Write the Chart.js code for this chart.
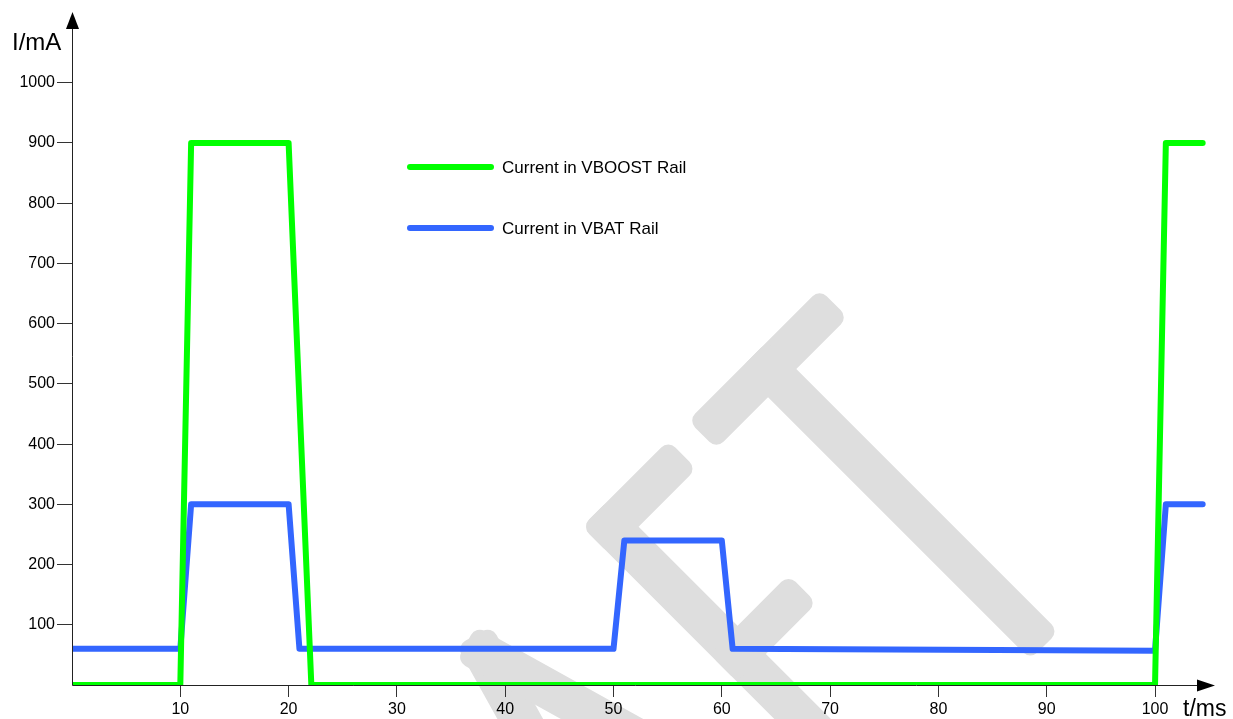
<!DOCTYPE html>
<html><head><meta charset="utf-8">
<script src="https://cdn.jsdelivr.net/npm/chart.js@4.4.1/dist/chart.umd.min.js"></script>
<style>html,body{margin:0;padding:0;background:#fff;overflow:hidden}</style>
</head><body>
<canvas id="c" width="1233" height="719"></canvas>
<script>
// ---- data ----
const seriesNames = ['Current in VBOOST Rail', 'Current in VBAT Rail'];
const vboostT = [0, 10, 11, 20, 22.1, 100, 101, 104.4];
const vboostI = [0, 0, 900, 900, 0, 0, 900, 900];
const vbatT = [0, 10, 11, 20, 21, 50, 51, 60, 61, 100, 101, 104.4];
const vbatI = [60, 60, 300, 300, 60, 60, 240, 240, 60, 57, 300, 300];
const xTicks = [10, 20, 30, 40, 50, 60, 70, 80, 90, 100];
const yTicks = [100, 200, 300, 400, 500, 600, 700, 800, 900, 1000];
const xTitle = 't/ms';
const yTitle = 'I/mA';
const watermarkText = 'DRAFT';

const FONT = "'Liberation Sans', Arial, sans-serif";
const colors = ['#00ff00', '#3366ff'];

// ---- watermark (decoration) ----
const W = 40;
function bar(ctx, x1, y1, x2, y2) {
  const ang = Math.atan2(y2 - y1, x2 - x1);
  const len = Math.hypot(x2 - x1, y2 - y1);
  ctx.save();
  ctx.translate(x1, y1);
  ctx.rotate(ang);
  ctx.beginPath();
  ctx.roundRect(-W / 2, -W / 2, len + W, W, 10);
  ctx.fill();
  ctx.restore();
}
const glyphs = {
  D: [[-860, 0, -860, 371], [-860, 0, -760, 0], [-860, 371, -760, 371], [-760, 0, -700, 120], [-700, 120, -700, 250], [-700, 250, -760, 371]],
  R: [[-660, 0, -660, 371], [-660, 0, -580, 0], [-580, 0, -550, 90], [-550, 90, -580, 180], [-580, 180, -660, 180], [-600, 180, -540, 371]],
  A: [[-402, 0, -508, 371], [-402, 0, -296, 371], [-465, 250, -340, 250]],
  F: [[-223, 0, -223, 371], [-223, 0, -141, 0], [-223, 180, -151, 180]],
  T: [[-73, 0, 73, 0], [0, 0, 0, 371]]
};
const watermarkPlugin = {
  id: 'watermark',
  beforeDraw(chart) {
    const ctx = chart.ctx;
    ctx.save();
    ctx.translate(768, 369);
    ctx.rotate(-Math.PI / 4);
    ctx.fillStyle = '#dedede';
    for (const ch of watermarkText) {
      (glyphs[ch] || []).forEach(s => bar(ctx, s[0], s[1], s[2], s[3]));
    }
    ctx.restore();
  }
};

// ---- axes with arrows, titles, legend ----
const decoPlugin = {
  id: 'deco',
  afterDatasetsDraw(chart) {
    const ctx = chart.ctx;
    const a = chart.chartArea;
    const L = Math.round(a.left) + 0.5, B = Math.round(a.bottom) + 0.5;
    ctx.save();
    ctx.strokeStyle = '#222';
    ctx.fillStyle = '#000';
    ctx.lineWidth = 1;
    ctx.beginPath();
    ctx.moveTo(L, B); ctx.lineTo(L, a.top + 16);
    ctx.moveTo(L, B); ctx.lineTo(a.right - 22, B);
    ctx.stroke();
    // y arrow
    ctx.beginPath();
    ctx.moveTo(L, a.top); ctx.lineTo(L - 6.5, a.top + 17); ctx.lineTo(L + 6.5, a.top + 17); ctx.closePath(); ctx.fill();
    // x arrow
    const tip = a.right - 5;
    ctx.beginPath();
    ctx.moveTo(tip, B); ctx.lineTo(tip - 18, B - 6); ctx.lineTo(tip - 18, B + 6); ctx.closePath(); ctx.fill();
    // titles
    ctx.textBaseline = 'alphabetic';
    ctx.textAlign = 'left';
    ctx.font = '24px ' + FONT;
    ctx.fillText(yTitle, 12, 50);
    ctx.font = '23px ' + FONT;
    ctx.fillText(xTitle, 1183, 716);
    // legend
    ctx.font = '17px ' + FONT;
    ctx.textBaseline = 'middle';
    chart.data.datasets.forEach((ds, i) => {
      const y = 167 + i * 61;
      ctx.strokeStyle = ds.borderColor;
      ctx.lineWidth = 6;
      ctx.lineCap = 'round';
      ctx.beginPath(); ctx.moveTo(410, y); ctx.lineTo(491, y); ctx.stroke();
      ctx.fillStyle = '#000';
      ctx.fillText(ds.label, 502, y + 1);
    });
    ctx.restore();
  }
};

const mk = (ts, vs) => ts.map((t, i) => ({ x: t, y: vs[i] }));

new Chart(document.getElementById('c'), {
  type: 'line',
  data: {
    datasets: [
      { label: seriesNames[0], data: mk(vboostT, vboostI), borderColor: colors[0], borderWidth: 6, pointRadius: 0, tension: 0, borderJoinStyle: 'round', borderCapStyle: 'round', fill: false },
      { label: seriesNames[1], data: mk(vbatT, vbatI), borderColor: colors[1], borderWidth: 6, pointRadius: 0, tension: 0, borderJoinStyle: 'round', borderCapStyle: 'round', fill: false }
    ]
  },
  options: {
    responsive: false,
    animation: false,
    layout: { padding: { top: 12, right: 13, left: 0, bottom: 0 } },
    plugins: { legend: { display: false }, tooltip: { enabled: false } },
    scales: {
      x: {
        type: 'linear', min: 0, max: 106,
        afterBuildTicks: s => { s.ticks = xTicks.map(v => ({ value: v })); },
        afterFit: s => { s.height = 34; },
        grid: { drawOnChartArea: false, drawTicks: true, tickLength: 12, tickColor: '#333', lineWidth: 1 },
        border: { display: false },
        ticks: { font: { family: FONT, size: 16 }, color: '#000', padding: 3, maxRotation: 0, autoSkip: false, callback: v => String(v) }
      },
      y: {
        type: 'linear', min: 0, max: 1117.5,
        afterBuildTicks: s => { s.ticks = yTicks.map(v => ({ value: v })); },
        afterFit: s => { s.width = 72; },
        grid: { drawOnChartArea: false, drawTicks: true, tickLength: 15, tickColor: '#333', lineWidth: 1 },
        border: { display: false },
        ticks: { font: { family: FONT, size: 16 }, color: '#000', padding: 2, autoSkip: false, callback: v => String(v) }
      }
    }
  },
  plugins: [watermarkPlugin, decoPlugin]
});
</script>
</body></html>
